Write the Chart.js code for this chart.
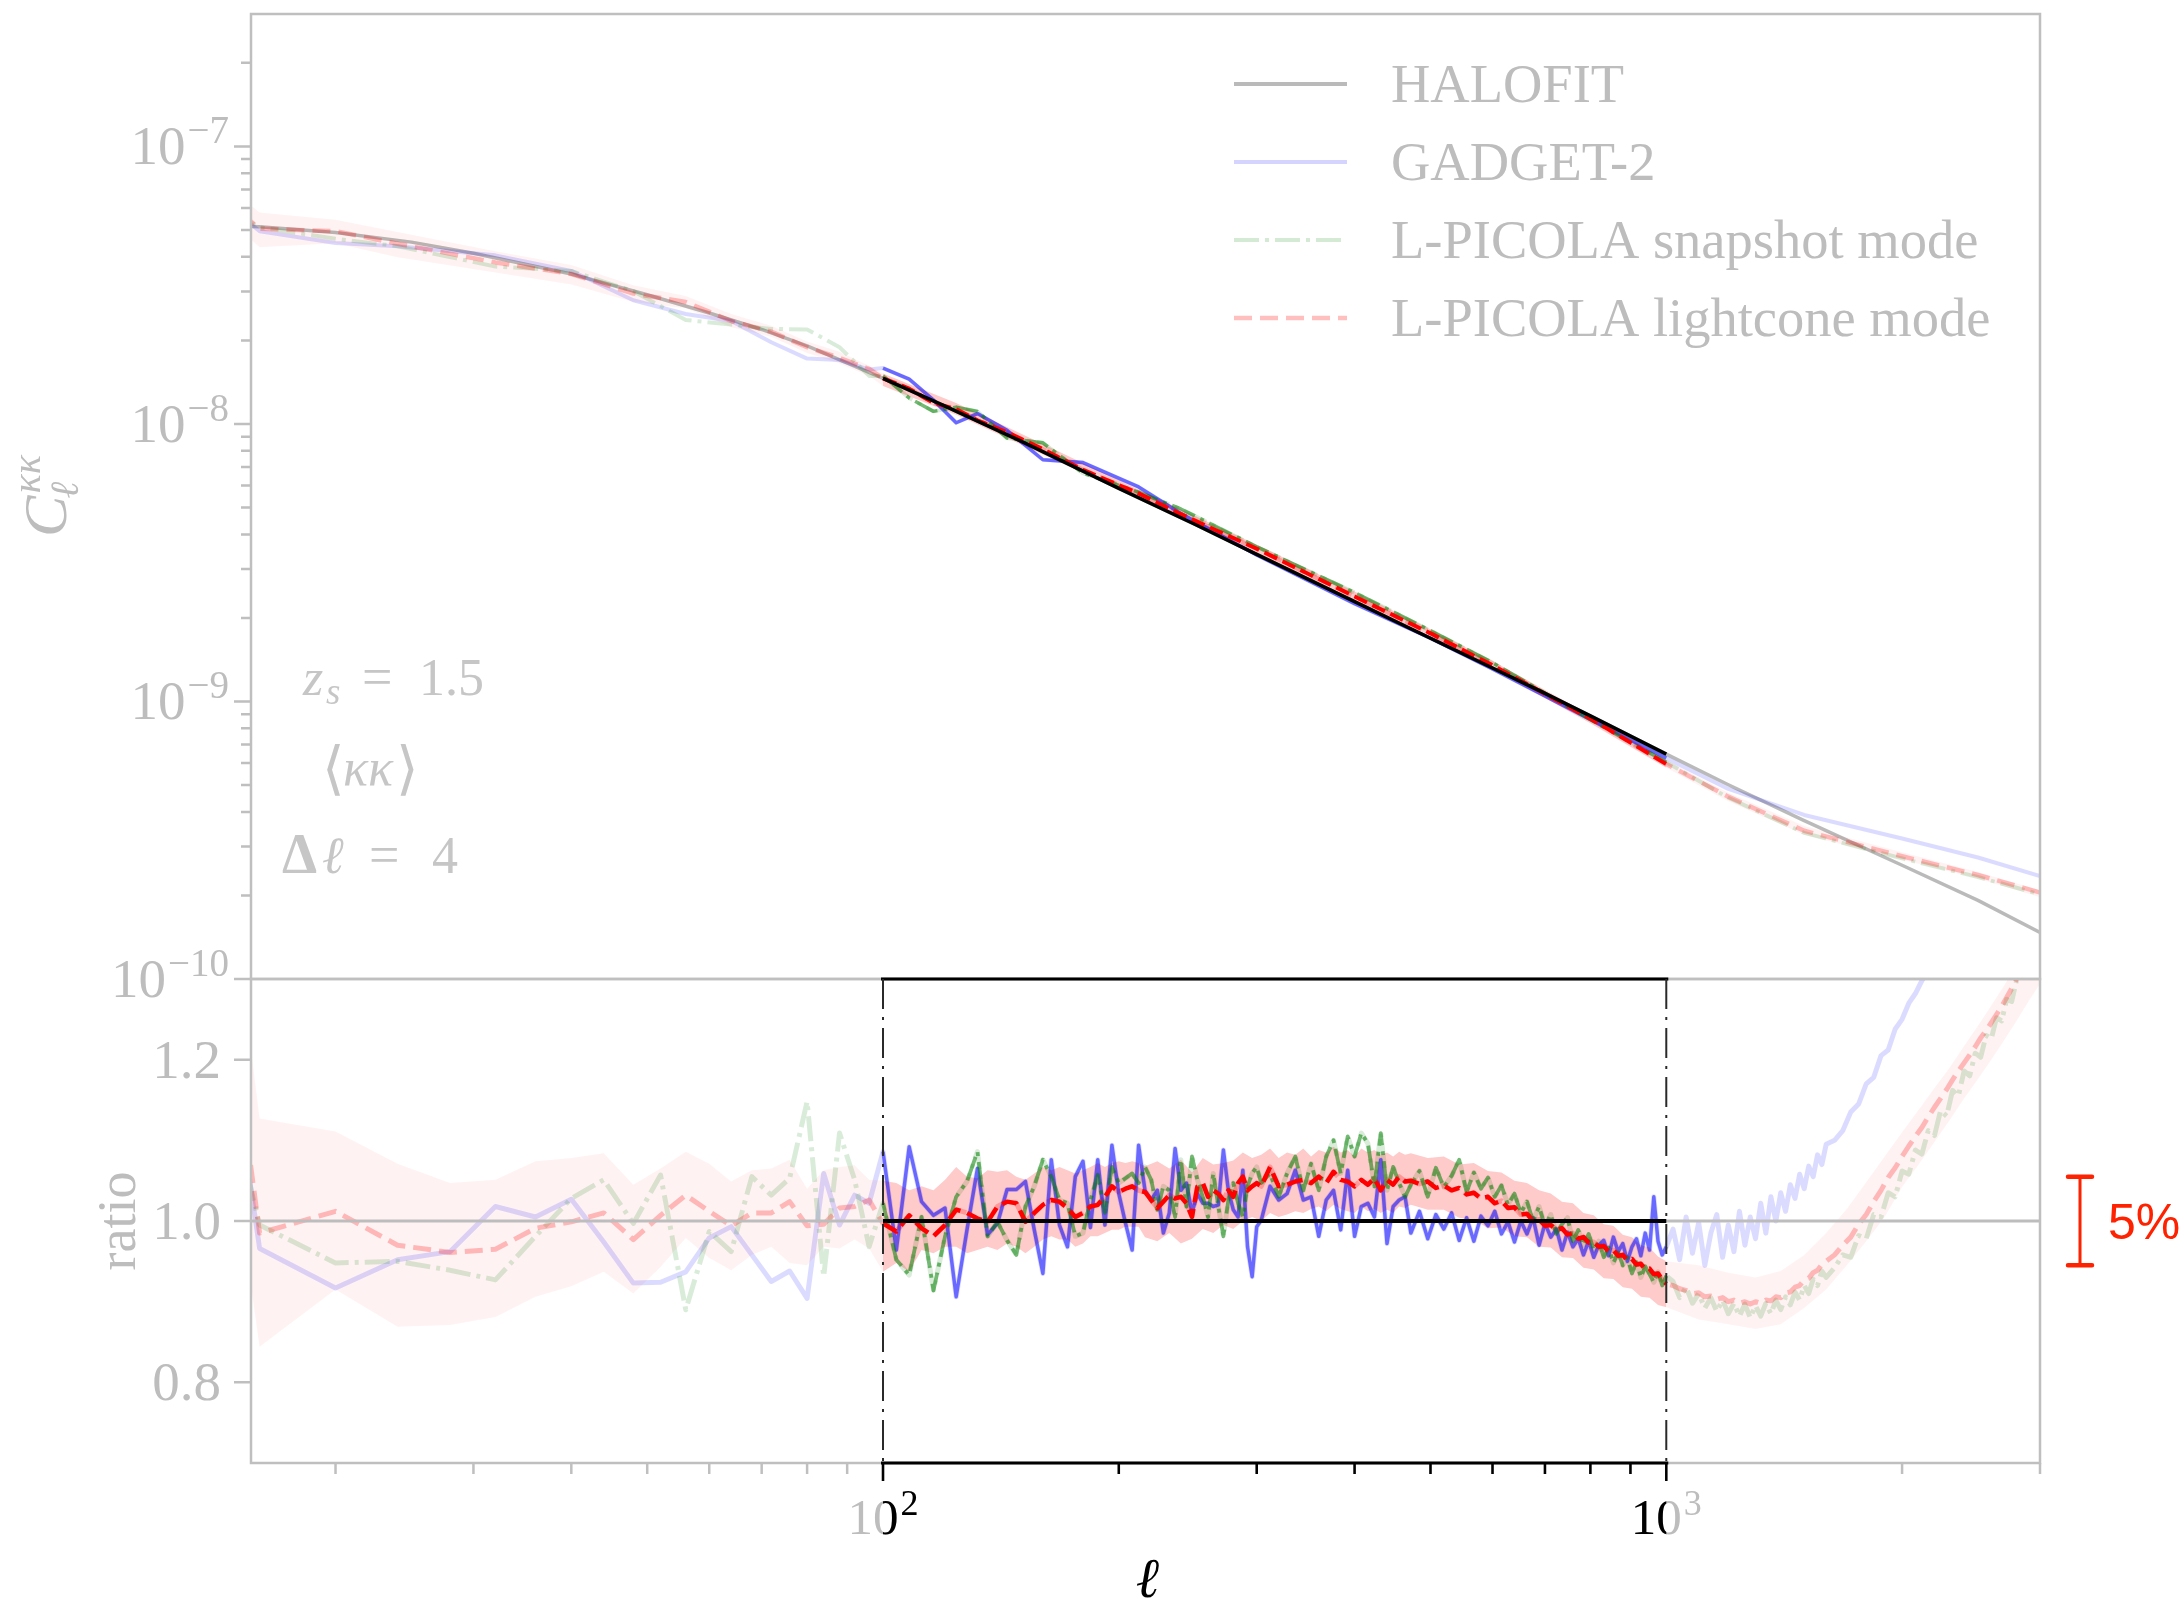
<!DOCTYPE html>
<html>
<head>
<meta charset="utf-8">
<script src="https://cdn.jsdelivr.net/npm/chart.js@4/dist/chart.umd.min.js"></script>
<style>
html,body{margin:0;padding:0;background:#ffffff;}
#wrap{position:relative;width:2184px;height:1600px;overflow:hidden;}
#wrap canvas{position:absolute;left:0;top:0;}
</style>
</head>
<body>
<div id="wrap">
<canvas id="cTop" width="2184" height="1600"></canvas>
<canvas id="cBot" width="2184" height="1600"></canvas>
</div>
<script>
// ---------------- DATA ----------------
// multipole bins (Delta ell = 4; sub-sampled at high ell) for the ratio panel
const ellRatio = [
 12,16,20,24,28,32,36,40,44,48,52,56,60,64,68,72,76,80,84,88,92,96,100,
 104,108,112,116,120,124,128,132,136,140,144,148,152,156,160,164,168,172,176,180,184,188,192,196,200,204,208,212,
 216,220,224,228,232,236,240,244,248,252,256,260,264,268,272,276,280,284,288,292,296,300,
 304,312,320,328,336,344,352,360,368,376,384,392,400,408,416,424,432,440,448,456,464,
 472,484,496,508,520,532,544,556,568,580,592,604,616,628,640,652,664,676,688,700,712,724,736,748,760,772,784,796,808,820,832,844,856,868,880,892,904,916,928,940,952,964,976,988,1000,
 1020,1040,1060,1080,1100,1120,1140,1160,1180,1200,1220,1240,1260,1280,1300,1320,1340,1360,1380,1400,1420,1440,1460,1480,1500,1520,1540,1560,1580,1600,
 1640,1680,1720,1760,1800,1840,1880,1920,1960,2000,2040,2080,2120,2160,2200,2240,2280,2320,2360,2400,2440,2480,2520,2560,2600,2640,2680,2720,2760,2800,2840,2880,2920,2960,3000
];
const ratioGadget = [
 1.80,0.966,0.917,0.952,0.962,1.018,1.005,1.027,0.974,0.923,0.924,0.937,0.979,0.993,0.958,0.925,0.938,0.904,1.059,0.995,1.032,1.022,1.086,
 0.964,1.092,1.024,1.007,1.016,0.906,0.989,1.065,0.983,0.997,1.039,1.039,1.049,0.989,0.935,1.076,0.995,0.968,1.055,1.074,0.992,1.076,0.995,1.094,1.034,0.997,0.964,1.094,
 1.038,1.026,1.038,0.985,1.010,1.090,1.038,1.047,1.010,1.034,1.022,1.022,1.018,1.020,1.088,1.038,1.014,1.005,1.063,0.968,0.931,0.993,
 1.001,1.043,1.026,1.034,1.063,1.026,1.030,0.981,1.026,1.038,0.989,1.063,0.981,1.018,1.022,1.005,1.076,0.972,1.018,1.026,1.030,
 0.985,1.012,0.978,1.008,0.990,1.010,0.976,1.004,0.975,1.006,0.994,1.012,0.984,0.999,0.974,1.000,0.984,1.004,0.970,0.997,0.980,0.990,0.964,0.986,0.968,0.978,0.958,0.975,0.955,0.970,0.976,0.957,0.980,0.962,0.972,0.950,0.968,0.978,0.957,0.985,0.964,1.030,0.975,0.958,0.968,
 0.990,0.952,1.005,0.960,0.998,0.945,0.985,1.008,0.955,0.995,0.962,1.012,0.970,1.005,0.978,1.022,0.985,1.030,1.000,1.035,1.012,1.045,1.028,1.058,1.040,1.068,1.055,1.082,1.070,1.095,
 1.100,1.112,1.135,1.145,1.170,1.178,1.205,1.212,1.238,1.250,1.270,1.282,1.298,1.310,1.328,1.340,1.356,1.368,1.384,1.396,1.410,1.420,1.435,1.445,1.460,1.470,1.485,1.495,1.510,1.520,1.535,1.545,1.560,1.570,1.585
];
const ratioSnapshot = [
 1.50,0.995,0.948,0.950,0.939,0.927,0.981,1.028,1.051,0.997,1.057,0.890,0.987,0.962,1.055,1.032,1.053,1.148,0.931,1.109,1.051,0.968,1.022,
 0.952,0.933,1.005,0.914,0.981,1.030,1.049,1.086,0.981,0.999,0.976,0.958,1.018,1.043,1.076,1.055,1.026,1.022,0.981,0.985,1.026,1.057,1.010,1.067,1.047,1.053,1.059,1.047,
 1.067,1.051,1.014,1.043,1.038,1.005,1.076,1.018,1.080,1.051,1.030,1.005,1.059,1.018,0.981,1.026,1.047,1.022,1.005,1.043,1.059,1.067,
 1.047,1.059,1.030,1.059,1.080,1.038,1.071,1.038,1.080,1.100,1.059,1.105,1.080,1.109,1.096,1.043,1.109,1.038,1.067,1.047,1.030,
 1.045,1.062,1.030,1.066,1.042,1.056,1.076,1.036,1.060,1.040,1.054,1.030,1.044,1.020,1.034,1.010,1.024,1.000,1.018,0.994,1.008,0.984,0.996,1.004,0.975,0.989,0.970,0.984,0.964,0.975,0.955,0.967,0.948,0.961,0.945,0.955,0.935,0.949,0.930,0.944,0.934,0.924,0.937,0.920,0.932,
 0.925,0.905,0.918,0.898,0.910,0.892,0.905,0.888,0.902,0.885,0.898,0.882,0.897,0.880,0.895,0.882,0.898,0.885,0.902,0.890,0.906,0.896,0.912,0.902,0.920,0.910,0.928,0.920,0.938,0.930,
 0.942,0.958,0.955,0.982,0.978,1.008,1.005,1.035,1.030,1.062,1.058,1.088,1.083,1.112,1.106,1.137,1.130,1.162,1.155,1.186,1.180,1.208,1.203,1.230,1.226,1.252,1.248,1.275,1.272,1.298,1.296,1.322,1.318,1.345,1.356
];
const ratioLightcone = [
 1.90,0.985,1.012,0.970,0.961,0.965,0.991,0.999,1.010,0.977,1.007,1.032,1.012,0.994,1.010,1.010,1.024,0.994,0.996,1.016,1.018,1.026,0.997,
 0.987,1.007,0.991,0.981,0.995,1.014,1.010,1.003,0.999,1.018,1.024,1.022,0.999,1.010,1.020,1.026,1.024,1.016,1.005,1.010,1.018,1.020,1.030,1.043,1.036,1.040,1.043,1.038,
 1.036,1.026,1.016,1.024,1.032,1.028,1.030,1.022,1.005,1.043,1.047,1.030,1.038,1.034,1.026,1.038,1.030,1.047,1.055,1.038,1.043,1.047,
 1.043,1.067,1.043,1.045,1.049,1.051,1.047,1.055,1.047,1.061,1.051,1.049,1.043,1.051,1.045,1.053,1.038,1.051,1.045,1.055,1.049,
 1.050,1.046,1.049,1.041,1.044,1.038,1.041,1.033,1.035,1.028,1.030,1.022,1.025,1.016,1.017,1.008,1.009,1.000,1.002,0.994,0.995,0.989,0.991,0.983,0.985,0.978,0.980,0.973,0.974,0.968,0.969,0.962,0.964,0.957,0.958,0.951,0.953,0.946,0.947,0.940,0.941,0.934,0.935,0.927,0.922,
 0.920,0.916,0.914,0.910,0.911,0.906,0.907,0.903,0.905,0.900,0.902,0.898,0.900,0.897,0.900,0.898,0.902,0.901,0.906,0.905,0.911,0.912,0.918,0.920,0.927,0.929,0.936,0.939,0.946,0.950,
 0.958,0.970,0.980,0.996,1.008,1.024,1.038,1.054,1.066,1.080,1.093,1.105,1.116,1.129,1.141,1.152,1.163,1.175,1.186,1.196,1.206,1.216,1.227,1.236,1.246,1.256,1.266,1.277,1.288,1.300,1.311,1.323,1.334,1.345,1.356
];
// lightcone-mode scatter band (ratio panel)
const ellBand = [
 12,16,20,24,28,32,36,40,44,48,52,56,60,64,68,72,76,80,84,88,92,96,100,
 104,108,112,116,120,124,128,132,136,140,144,148,152,156,160,164,168,172,176,180,184,188,192,196,200,204,208,212,
 216,224,232,240,248,256,264,272,280,288,296,304,312,320,328,336,344,352,360,368,376,384,392,400,408,416,424,432,440,448,456,464,
 472,496,520,544,568,592,616,640,664,688,712,736,760,784,808,832,856,880,904,928,952,976,1000,
 1100,1200,1300,1400,1500,1600,1700,1800,1900,2000,2100,2200,2300,2400,2500,2600,2700,2800,2900,3000
];
const bandHi = [
 2.10,1.127,1.111,1.071,1.047,1.051,1.074,1.078,1.084,1.045,1.065,1.086,1.071,1.049,1.063,1.065,1.076,1.040,1.063,1.067,1.069,1.051,1.050,
 1.047,1.038,1.043,1.038,1.051,1.067,1.055,1.053,1.063,1.061,1.063,1.055,1.051,1.059,1.067,1.063,1.067,1.063,1.059,1.063,1.067,1.072,1.067,1.072,1.074,1.072,1.074,1.072,
 1.068,1.074,1.065,1.076,1.060,1.078,1.070,1.072,1.075,1.085,1.078,1.082,1.090,1.078,1.085,1.082,1.090,1.080,1.088,1.085,1.092,1.085,1.088,1.080,1.090,1.085,1.088,1.082,1.085,1.080,1.086,1.082,
 1.084,1.078,1.080,1.070,1.072,1.062,1.060,1.050,1.047,1.038,1.034,1.024,1.022,1.010,1.007,0.996,0.994,0.983,0.980,0.970,0.967,0.956,0.950,
 0.945,0.936,0.930,0.938,0.958,0.985,1.015,1.048,1.080,1.110,1.138,1.165,1.190,1.217,1.242,1.267,1.292,1.318,1.343,1.368
];
const bandLo = [
 1.70,0.844,0.915,0.869,0.871,0.881,0.906,0.919,0.937,0.910,0.943,0.979,0.954,0.939,0.958,0.968,0.948,0.945,0.968,0.966,0.977,0.966,0.937,
 0.948,0.937,0.964,0.960,0.968,0.968,0.960,0.964,0.968,0.964,0.972,0.968,0.960,0.968,0.977,0.981,0.977,0.977,0.968,0.972,0.981,0.981,0.985,0.989,0.989,0.993,0.993,0.993,
 0.980,0.975,0.985,0.972,0.978,0.990,0.985,0.995,0.990,1.000,1.005,1.000,1.010,1.005,1.008,1.012,1.010,1.015,1.018,1.012,1.020,1.015,1.012,1.010,1.018,1.012,1.015,1.010,1.014,1.010,1.018,1.016,
 1.020,1.014,1.014,1.004,1.002,0.991,0.992,0.981,0.980,0.968,0.967,0.955,0.954,0.942,0.940,0.929,0.928,0.918,0.916,0.906,0.905,0.896,0.893,
 0.878,0.872,0.866,0.872,0.892,0.915,0.945,0.975,1.005,1.042,1.070,1.098,1.125,1.152,1.176,1.200,1.224,1.248,1.272,1.294
];
// upper panel: convergence power spectra
const ellHalofit = [12,16,20,25,30,40,50,60,70,80,100,120,150,200,250,300,400,500,600,700,800,1000,1200,1500,2000,2500,3000];
const clHalofit = [5.35e-8,5.13e-8,4.90e-8,4.52e-8,4.12e-8,3.47e-8,2.92e-8,2.51e-8,2.19e-8,1.91e-8,1.46e-8,1.16e-8,8.67e-9,5.86e-9,4.35e-9,3.39e-9,2.29e-9,1.69e-9,1.32e-9,1.07e-9,8.87e-10,6.46e-10,5.01e-10,3.72e-10,2.57e-10,1.92e-10,1.47e-10];
const ellTop = [12,16,20,24,32,40,48,56,64,72,80,88,96,100,108,116,124,132,144,160,180,212,240,300,400,500,600,800,1000,1200,1500,2000,2500,3000];
const clGadget = [9.6e-8,4.95e-8,4.49e-8,4.37e-8,4.05e-8,3.56e-8,2.79e-8,2.49e-8,2.35e-8,1.97e-8,1.72e-8,1.70e-8,1.57e-8,1.59e-8,1.45e-8,1.22e-8,1.01e-8,1.09e-8,9.48e-9,7.43e-9,7.26e-9,5.93e-9,4.76e-9,3.37e-9,2.25e-9,1.69e-9,1.31e-9,8.61e-10,6.25e-10,4.84e-10,3.90e-10,3.21e-10,2.74e-10,2.35e-10];
const clSnapshot = [8.02e-8,5.11e-8,4.65e-8,4.37e-8,3.69e-8,3.56e-8,3.01e-8,2.37e-8,2.28e-8,2.20e-8,2.19e-8,1.89e-8,1.49e-8,1.49e-8,1.24e-8,1.11e-8,1.15e-8,1.11e-8,8.89e-9,8.55e-9,6.65e-9,5.68e-9,4.94e-9,3.61e-9,2.47e-9,1.80e-9,1.38e-9,8.61e-10,6.04e-10,4.50e-10,3.36e-10,2.72e-10,2.33e-10,2.02e-10];
const clLightcone = [1.016e-7,5.05e-8,4.95e-8,4.46e-8,3.82e-8,3.47e-8,2.95e-8,2.75e-8,2.35e-8,2.15e-8,1.89e-8,1.73e-8,1.58e-8,1.46e-8,1.34e-8,1.19e-8,1.13e-8,1.03e-8,9.33e-9,8.11e-9,6.83e-9,5.62e-9,4.73e-9,3.55e-9,2.39e-9,1.76e-9,1.35e-9,8.68e-10,5.95e-10,4.54e-10,3.42e-10,2.77e-10,2.37e-10,2.05e-10];
const ellBandTop = [12,16,20,24,32,40,48,56,64,72,80,88,96,100,124,160,212,300,400,500,600,800,1000,1200,1500,2000,2500,3000];
const clBandHi = [1.12e-7,5.78e-8,5.44e-8,4.92e-8,4.19e-8,3.74e-8,3.16e-8,2.89e-8,2.49e-8,2.26e-8,1.98e-8,1.82e-8,1.62e-8,1.52e-8,1.19e-8,8.47e-9,5.81e-9,3.67e-9,2.49e-9,1.82e-9,1.40e-9,8.94e-10,6.14e-10,4.69e-10,3.56e-10,2.86e-10,2.43e-10,2.09e-10];
const clBandLo = [9.08e-8,4.33e-8,4.48e-8,3.99e-8,3.51e-8,3.18e-8,2.75e-8,2.61e-8,2.23e-8,2.06e-8,1.80e-8,1.65e-8,1.49e-8,1.37e-8,1.08e-8,7.76e-9,5.38e-9,3.40e-9,2.31e-9,1.72e-9,1.31e-9,8.34e-10,5.77e-10,4.37e-10,3.31e-10,2.69e-10,2.30e-10,1.97e-10];
// reference lines, highlighted range, scale bar
const refEll = [15.6, 3000];
const refRatio = [1, 1];
const boxEll = [100, 1000];
const boxRatio = [1, 1];
const pctBar = [0.945, 1.055];
const pctLabel = '5%';
// axes
const xRange = [15.6, 3000];
const yRangeTop = [1e-10, 3e-7];
const yRangeRatio = [0.7, 1.3];
const xMajorTicks = [100, 1000];
const xMinorTicks = [20,30,40,50,60,70,80,90,200,300,400,500,600,700,800,900,2000,3000];
const xTickLabels = [['10','2'],['10','3']];
const yMajorTop = [1e-10,1e-9,1e-8,1e-7];
const yTopLabels = [['10','\u221210'],['10','\u22129'],['10','\u22128'],['10','\u22127']];
const yRatioTicks = [0.8, 1.0, 1.2];
const yRatioLabels = ['0.8','1.0','1.2'];
const legendLabels = ['HALOFIT','GADGET-2','L-PICOLA snapshot mode','L-PICOLA lightcone mode'];

// ---------------- STYLE ----------------
const SERIF = '"Liberation Serif","DejaVu Serif",serif';
const GREY_TXT = '#bdbdbd';
const SPINE = '#bfbfbf';
const RED5 = '#ff2200';
const COL = {
  halofitFaded:'rgba(0,0,0,0.27)', halofit:'#000000',
  blueFaded:'rgba(0,0,255,0.14)', blue:'rgba(0,0,255,0.52)',
  greenFaded:'rgba(0,128,0,0.15)', green:'rgba(0,128,0,0.55)',
  redFaded:'rgba(255,0,0,0.25)', red:'#ff0000',
  bandFaded:'rgba(255,0,0,0.05)', band:'rgba(255,0,0,0.17)'
};
const DASH = [18, 8];
const DASHDOT = [25, 6, 4, 6];

const inBox = v => v >= boxEll[0] && v <= boxEll[1];
function pts(ell, vals, filt){
  const out = [];
  ell.forEach((x, i) => { if (!filt || filt(x)) out.push({x: x, y: vals[i]}); });
  return out;
}
function lineDs(ell, vals, color, width, dash, order, filt){
  return {data: pts(ell, vals, filt), borderColor: color, backgroundColor: color,
    borderWidth: width, borderDash: dash || [], pointRadius: 0, pointHoverRadius: 0,
    fill: false, tension: 0, order: order, borderJoinStyle: 'round', borderCapStyle: 'butt'};
}
function bandDs(ell, hi, lo, color, order, filt){
  return [
    {data: pts(ell, hi, filt), borderWidth: 0, borderColor: 'rgba(0,0,0,0)', backgroundColor: color,
     pointRadius: 0, fill: '+1', tension: 0, order: order},
    {data: pts(ell, lo, filt), borderWidth: 0, borderColor: 'rgba(0,0,0,0)', backgroundColor: color,
     pointRadius: 0, fill: false, tension: 0, order: order - 1}
  ];
}
function font(size, style){ return (style ? style + ' ' : '') + size + 'px ' + SERIF; }
function drawPow(ctx, x, base, baseY, exp, align, color, fs, es){
  fs = fs || 50; es = es || 35;
  ctx.fillStyle = color; ctx.textAlign = 'left'; ctx.textBaseline = 'alphabetic';
  ctx.font = font(fs); const wb = ctx.measureText(base).width;
  ctx.font = font(es); const we = ctx.measureText(exp).width;
  const total = wb + 2 + we;
  const x0 = align === 'right' ? x - total : (align === 'center' ? x - total / 2 : x);
  ctx.font = font(fs); ctx.fillText(base, x0, baseY);
  ctx.font = font(es); ctx.fillText(exp, x0 + wb + 2, baseY - Math.round(fs * 0.38));
}
function baseOptions(pad, yType, yr){
  return {
    responsive: false, animation: false, devicePixelRatio: 1, events: [],
    layout: {padding: pad},
    plugins: {legend: {display: false}, tooltip: {enabled: false}, title: {display: false}},
    scales: {
      x: {type: 'logarithmic', min: xRange[0], max: xRange[1], display: false},
      y: {type: yType, min: yr[0], max: yr[1], display: false}
    }
  };
}

// ---------------- TOP PANEL ----------------
const decorTop = {
  id: 'decorTop',
  afterDraw(chart){
    const ctx = chart.ctx, a = chart.chartArea, y = chart.scales.y;
    ctx.save();
    ctx.setLineDash([]);
    ctx.strokeStyle = SPINE; ctx.lineWidth = 2.5;
    ctx.strokeRect(a.left, a.top, a.right - a.left, a.bottom - a.top);
    // y ticks
    const minor = [];
    [-10, -9, -8, -7].forEach(n => { for (let k = 2; k <= 9; k++){ const v = k * Math.pow(10, n); if (v < yRangeTop[1] * 0.999) minor.push(v); } });
    ctx.beginPath();
    yMajorTop.forEach(v => { const p = y.getPixelForValue(v); ctx.moveTo(a.left, p); ctx.lineTo(a.left - 17, p); });
    minor.forEach(v => { const p = y.getPixelForValue(v); ctx.moveTo(a.left, p); ctx.lineTo(a.left - 10, p); });
    ctx.stroke();
    yMajorTop.forEach((v, i) => {
      const p = y.getPixelForValue(v);
      drawPow(ctx, a.left - 22, yTopLabels[i][0], p + 18, yTopLabels[i][1], 'right', GREY_TXT, 55, 39);
    });
    // y label  C_l^{kk}
    ctx.save();
    ctx.translate(66, 497); ctx.rotate(-Math.PI / 2);
    ctx.fillStyle = GREY_TXT; ctx.textAlign = 'left'; ctx.textBaseline = 'alphabetic';
    ctx.font = font(62, 'italic'); const wC = ctx.measureText('C').width;
    ctx.font = font(40, 'italic'); const wK = ctx.measureText('\u03BA\u03BA').width;
    const u0 = -(wC + wK) / 2;
    ctx.font = font(62, 'italic'); ctx.fillText('C', u0, 0);
    ctx.font = font(40, 'italic'); ctx.fillText('\u03BA\u03BA', u0 + wC + 2, -26);
    ctx.font = font(40, 'italic'); ctx.fillText('\u2113', u0 + wC - 3, 12);
    ctx.restore();
    // legend
    const rows = [84, 162, 240, 318];
    const hx0 = 1234, hx1 = 1347, tx = 1391;
    const hs = [
      {c: COL.halofitFaded, w: 4, d: []},
      {c: 'rgba(0,0,255,0.17)', w: 4, d: []},
      {c: 'rgba(0,128,0,0.17)', w: 4, d: DASHDOT},
      {c: COL.redFaded, w: 4.5, d: DASH}
    ];
    legendLabels.forEach((lab, i) => {
      ctx.strokeStyle = hs[i].c; ctx.lineWidth = hs[i].w; ctx.setLineDash(hs[i].d); ctx.lineCap = 'butt';
      ctx.beginPath(); ctx.moveTo(hx0, rows[i]); ctx.lineTo(hx1, rows[i]); ctx.stroke();
      ctx.setLineDash([]);
      ctx.fillStyle = GREY_TXT; ctx.font = font(54.5); ctx.textAlign = 'left'; ctx.textBaseline = 'alphabetic';
      ctx.fillText(lab, tx, rows[i] + 18);
    });
    // annotations
    const AC = '#c6c6c6';
    ctx.fillStyle = AC; ctx.textAlign = 'left'; ctx.textBaseline = 'alphabetic';
    ctx.font = font(52, 'italic'); ctx.fillText('z', 303, 695);
    ctx.font = font(37, 'italic'); ctx.fillText('s', 326, 704);
    ctx.font = font(54); ctx.fillText('=', 362, 695);
    ctx.font = font(52); ctx.fillText('1.5', 419, 695);
    ctx.font = '58px "DejaVu Serif","DejaVu Sans",serif'; ctx.fillText('\u27E8', 322, 788);
    ctx.font = font(52, 'italic'); ctx.fillText('\u03BA\u03BA', 343, 785);
    ctx.font = '58px "DejaVu Serif","DejaVu Sans",serif'; ctx.fillText('\u27E9', 396, 788);
    ctx.font = font(56, 'bold'); ctx.fillText('\u0394', 282, 873);
    ctx.font = font(52, 'italic'); ctx.fillText('\u2113', 322, 873);
    ctx.font = font(54); ctx.fillText('=', 369, 873);
    ctx.font = font(52); ctx.fillText('4', 432, 873);
    ctx.restore();
  }
};

const topDatasets = [].concat(
  bandDs(ellBandTop, clBandHi, clBandLo, COL.bandFaded, 100),
  [lineDs(ellHalofit, clHalofit, COL.halofitFaded, 3.5, [], 90)],
  [lineDs(ellTop, clGadget, COL.blueFaded, 4, [], 89)],
  [lineDs(ellTop, clSnapshot, COL.greenFaded, 4, DASHDOT, 88)],
  [lineDs(ellTop, clLightcone, COL.redFaded, 4.5, DASH, 87)],
  bandDs(ellBandTop, clBandHi, clBandLo, COL.band, 80, inBox),
  [lineDs(ellTop, clGadget, COL.blue, 3.5, [], 70, inBox)],
  [lineDs(ellTop, clSnapshot, COL.green, 3.5, DASHDOT, 69, inBox)],
  [lineDs(ellTop, clLightcone, COL.red, 4, [14, 6], 68, inBox)],
  [lineDs(ellHalofit, clHalofit, COL.halofit, 3.5, [], 60, inBox)]
);

new Chart(document.getElementById('cTop'), {
  type: 'line',
  data: {datasets: topDatasets},
  options: baseOptions({left: 251, right: 144, top: 14, bottom: 621}, 'logarithmic', yRangeTop),
  plugins: [decorTop]
});

// ---------------- RATIO PANEL ----------------
const decorBot = {
  id: 'decorBot',
  afterDraw(chart){
    const ctx = chart.ctx, a = chart.chartArea, x = chart.scales.x, y = chart.scales.y;
    ctx.save();
    ctx.setLineDash([]);
    ctx.strokeStyle = SPINE; ctx.lineWidth = 2.5;
    ctx.strokeRect(a.left, a.top, a.right - a.left, a.bottom - a.top);
    const xb0 = x.getPixelForValue(boxEll[0]), xb1 = x.getPixelForValue(boxEll[1]);
    // x ticks
    const tick = (v, len, color) => {
      const p = x.getPixelForValue(v);
      ctx.strokeStyle = color; ctx.lineWidth = 2.5;
      ctx.beginPath(); ctx.moveTo(p, a.bottom); ctx.lineTo(p, a.bottom + len); ctx.stroke();
    };
    xMinorTicks.forEach(v => tick(v, 11, SPINE));
    xMajorTicks.forEach(v => tick(v, 18, SPINE));
    xMinorTicks.filter(inBox).forEach(v => tick(v, 11, '#000'));
    xMajorTicks.filter(inBox).forEach(v => tick(v, 18, '#000'));
    // y ticks
    ctx.strokeStyle = SPINE; ctx.lineWidth = 2.5;
    ctx.beginPath();
    yRatioTicks.forEach(v => { const p = y.getPixelForValue(v); ctx.moveTo(a.left, p); ctx.lineTo(a.left - 17, p); });
    ctx.stroke();
    ctx.fillStyle = GREY_TXT; ctx.font = font(55); ctx.textAlign = 'right'; ctx.textBaseline = 'alphabetic';
    yRatioTicks.forEach((v, i) => { ctx.fillText(yRatioLabels[i], a.left - 30, y.getPixelForValue(v) + 18); });
    // highlighted window frame
    ctx.strokeStyle = '#000'; ctx.lineWidth = 3.2;
    ctx.beginPath(); ctx.moveTo(xb0 - 2, a.top); ctx.lineTo(xb1 + 2, a.top);
    ctx.moveTo(xb0 - 2, a.bottom); ctx.lineTo(xb1 + 2, a.bottom); ctx.stroke();
    ctx.strokeStyle = '#2a2a2a'; ctx.lineWidth = 2; ctx.setLineDash([30, 8, 3, 8]);
    ctx.beginPath(); ctx.moveTo(xb0, a.top); ctx.lineTo(xb0, a.bottom);
    ctx.moveTo(xb1, a.top); ctx.lineTo(xb1, a.bottom); ctx.stroke();
    ctx.setLineDash([]);
    // x tick labels: grey, then black part clipped to the window
    const lblY = 1534;
    xMajorTicks.forEach((v, i) => drawPow(ctx, x.getPixelForValue(v), xTickLabels[i][0], lblY, xTickLabels[i][1], 'center', GREY_TXT, 51, 36));
    ctx.save();
    ctx.beginPath(); ctx.rect(xb0, a.bottom + 20, xb1 - xb0, 120); ctx.clip();
    xMajorTicks.forEach((v, i) => drawPow(ctx, x.getPixelForValue(v), xTickLabels[i][0], lblY, xTickLabels[i][1], 'center', '#000', 51, 36));
    ctx.restore();
    // x label
    ctx.fillStyle = '#000'; ctx.font = font(56, 'italic'); ctx.textAlign = 'center'; ctx.textBaseline = 'alphabetic';
    ctx.fillText('\u2113', (a.left + a.right) / 2 + 2, 1597);
    // y label
    ctx.save();
    ctx.translate(135, (a.top + a.bottom) / 2); ctx.rotate(-Math.PI / 2);
    ctx.fillStyle = GREY_TXT; ctx.font = font(54); ctx.textAlign = 'center'; ctx.textBaseline = 'alphabetic';
    ctx.fillText('ratio', 0, 0);
    ctx.restore();
    // 5% scale bar
    const yb0 = y.getPixelForValue(pctBar[0]), yb1 = y.getPixelForValue(pctBar[1]);
    const bx = 2080;
    ctx.strokeStyle = RED5; ctx.lineCap = 'round';
    ctx.lineWidth = 3; ctx.beginPath(); ctx.moveTo(bx, yb0); ctx.lineTo(bx, yb1); ctx.stroke();
    ctx.lineWidth = 4.5; ctx.beginPath();
    ctx.moveTo(bx - 12, yb0); ctx.lineTo(bx + 12, yb0);
    ctx.moveTo(bx - 12, yb1); ctx.lineTo(bx + 12, yb1); ctx.stroke();
    ctx.fillStyle = RED5; ctx.font = '50px "Liberation Sans","DejaVu Sans",sans-serif'; ctx.textAlign = 'left';
    ctx.fillText(pctLabel, 2108, (yb0 + yb1) / 2 + 18);
    ctx.restore();
  }
};

const botDatasets = [].concat(
  bandDs(ellBand, bandHi, bandLo, COL.bandFaded, 100),
  [lineDs(ellRatio, ratioGadget, COL.blueFaded, 5, [], 89)],
  [lineDs(ellRatio, ratioSnapshot, COL.greenFaded, 5, DASHDOT, 88)],
  [lineDs(ellRatio, ratioLightcone, COL.redFaded, 5, DASH, 87)],
  [lineDs(refEll, refRatio, '#bdbdbd', 3, [], 85)],
  bandDs(ellBand, bandHi, bandLo, COL.band, 80, inBox),
  [lineDs(ellRatio, ratioGadget, COL.blue, 3.5, [], 70, inBox)],
  [lineDs(ellRatio, ratioSnapshot, COL.green, 3.8, DASHDOT, 69, inBox)],
  [lineDs(ellRatio, ratioLightcone, COL.red, 4.5, [16, 7], 68, inBox)],
  [lineDs(boxEll, boxRatio, '#000000', 4, [], 60)]
);

new Chart(document.getElementById('cBot'), {
  type: 'line',
  data: {datasets: botDatasets},
  options: baseOptions({left: 251, right: 144, top: 979, bottom: 137}, 'linear', yRangeRatio),
  plugins: [decorBot]
});
</script>
</body>
</html>
